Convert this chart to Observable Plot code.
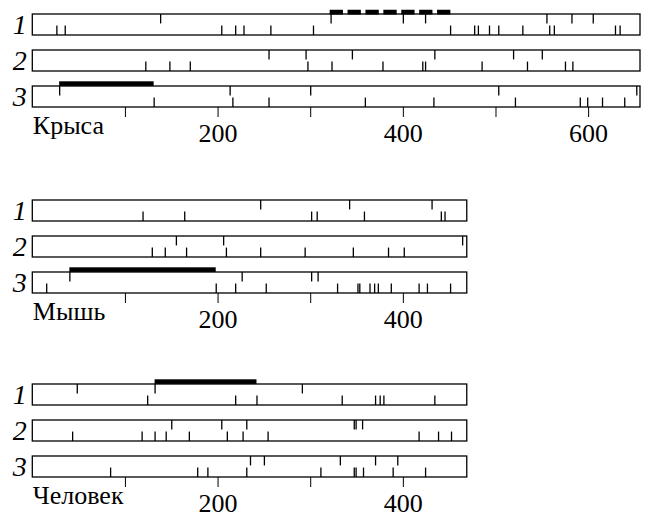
<!DOCTYPE html>
<html><head><meta charset="utf-8">
<script src="https://cdn.jsdelivr.net/npm/d3@7"></script>
<script src="https://cdn.jsdelivr.net/npm/@observablehq/plot@0.6"></script>
<style>
body{margin:0;background:#fff;}
#chart{width:645px;height:517px;overflow:hidden;}
#chart svg{display:block;}
#chart svg text{font-family:'Liberation Serif','DejaVu Serif',serif;}
[aria-label^="y-axis"] text{font-style:italic;font-size:28px;}
</style></head><body><div id="chart"></div>
<script>
const tracks = ["1", "2", "3"];
const speciesNames = ["Крыса", "Мышь", "Человек"];
const seqLengths = [656, 469, 469];
const axisTicks = [[100, 200, 300, 400, 500, 600], [100, 200, 300, 400], [100, 200, 300, 400]];
const tickLabels = [200, 400, 600];

// Rat
const ratTop1 = [138, 322, 400, 424, 555, 582, 605];
const ratBottom1 = [26, 35, 204, 219, 228, 257, 303, 451, 477, 481, 493, 503, 529, 558, 563, 629, 634];
const ratTop2 = [255, 295, 345, 434, 519, 550];
const ratBottom2 = [122, 148, 170, 297, 323, 378, 421, 424, 485, 534, 575, 583];
const ratTop3 = [29, 213, 300, 503, 652];
const ratBottom3 = [131, 216, 255, 359, 433, 521, 591, 599, 615, 639];
// Mouse
const mouseTop1 = [246, 342, 431];
const mouseBottom1 = [119, 164, 301, 307, 358, 441, 445];
const mouseTop2 = [155, 206, 464];
const mouseBottom2 = [129, 143, 166, 209, 246, 294, 346, 384, 401];
const mouseTop3 = [40, 226, 301, 308];
const mouseBottom3 = [15, 198, 219, 252, 329, 351, 353, 364, 369, 373, 387, 417, 426, 451];
// Human
const humanTop1 = [48, 132, 291];
const humanBottom1 = [124, 219, 242, 334, 370, 375, 379, 434];
const humanTop2 = [150, 204, 231, 347, 349, 356];
const humanBottom2 = [43, 118, 132, 144, 169, 210, 227, 254, 417, 438, 452];
const humanTop3 = [235, 250, 332, 370, 394];
const humanBottom3 = [84, 178, 189, 231, 311, 347, 349, 357, 389, 424];

// Highlighted regions (thick bars)
const barSpecies = [0, 0, 1, 2];
const barTrack = ["1", "3", "3", "1"];
const barStart = [321, 29, 40, 132];
const barEnd = [452, 131, 198, 242];
const barDashed = [true, false, false, false];

const topTicks = [[ratTop1, ratTop2, ratTop3], [mouseTop1, mouseTop2, mouseTop3], [humanTop1, humanTop2, humanTop3]];
const bottomTicks = [[ratBottom1, ratBottom2, ratBottom3], [mouseBottom1, mouseBottom2, mouseBottom3], [humanBottom1, humanBottom2, humanBottom3]];

// layout
const panelHeights = [185.5, 184.5, 147];
const mTop = 13.3, frameH = 93.7, pInner = 0.42;
const step = frameH / (3 - pInner);
const bw = step * (1 - pInner);
const tickLen = 9.5;
const barThick = 4.7;
const fs = 26;

function panel(k) {
  const H = panelHeights[k];
  const boxes = tracks.map(t => ({track: t, start: 0, end: seqLengths[k]}));
  const tops = [], bots = [];
  tracks.forEach((t, j) => {
    topTicks[k][j].forEach(x => tops.push({track: t, x}));
    bottomTicks[k][j].forEach(x => bots.push({track: t, x}));
  });
  const bars = barSpecies.map((s, i) => ({s, track: barTrack[i], start: barStart[i], end: barEnd[i], dashed: barDashed[i]}))
    .filter(d => d.s === k);
  return Plot.plot({
    width: 645, height: H,
    marginTop: mTop, marginBottom: H - mTop - frameH, marginLeft: 32.3, marginRight: 5,
    x: {domain: [0, 656], ticks: axisTicks[k], tickFormat: d => tickLabels.includes(d) ? String(d) : "",
        tickSize: 10, tickPadding: 34.7 - 10 - 0.71 * fs, label: null},
    y: {domain: tracks, paddingInner: pInner, paddingOuter: 0, tickSize: 0, tickPadding: 6, label: null},
    style: `font-family:'Liberation Serif','DejaVu Serif',serif;font-size:${fs}px;color:black;background:white;overflow:visible;`,
    marks: [
      Plot.barX(boxes, {x1: "start", x2: "end", y: "track", fill: "white", stroke: "black", strokeWidth: 1.3}),
      Plot.tickX(tops, {x: "x", y: "track", insetBottom: bw - tickLen, stroke: "black", strokeWidth: 1.3}),
      Plot.tickX(bots, {x: "x", y: "track", insetTop: bw - tickLen, stroke: "black", strokeWidth: 1.3}),
      Plot.barX(bars.filter(d => !d.dashed), {x1: "start", x2: "end", y: "track", fill: "black",
        insetTop: -barThick, insetBottom: bw}),
      Plot.ruleY(bars.filter(d => d.dashed), {x1: "start", x2: "end", y: "track", stroke: "black",
        strokeWidth: barThick, strokeDasharray: "13.3,4.6", dy: -bw / 2 - barThick / 2}),
      Plot.text([speciesNames[k]], {text: d => d, frameAnchor: "bottom-left", textAnchor: "start",
        dy: 34.7 - 0.32 * fs, fontSize: fs})
    ]
  });
}

const root = document.getElementById("chart");
[0, 1, 2].forEach(k => root.appendChild(panel(k)));
</script></body></html>
